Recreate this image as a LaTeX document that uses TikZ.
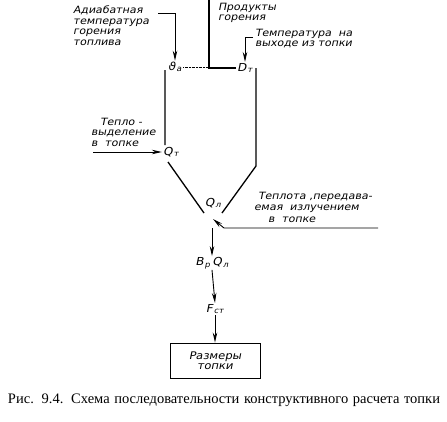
\documentclass[tikz,border=0pt]{standalone}
\usepackage{fontspec}
\setmainfont{Liberation Serif}
\newfontfamily\gostfont{DejaVu Sans}[FakeStretch=1.1,FakeSlant=0.2]
\usetikzlibrary{arrows.meta}

\begin{document}
\begin{tikzpicture}[x=1pt,y=1pt,>={Stealth[length=10pt,width=4.5pt]},lbl/.style={align=left,inner sep=0pt,font=\gostfont\fontsize{10}{10.5}\selectfont},sym/.style={inner sep=1pt,font=\gostfont\fontsize{11}{12}\selectfont},wall/.style={line width=1.3pt},arr/.style={line width=0.9pt,->},blok/.style={draw,line width=0.9pt,minimum width=90pt,minimum height=35pt,align=center,font=\gostfont\fontsize{10.5}{10.5}\selectfont}]
\useasboundingbox (0,0) rectangle (447,-421);
\node[lbl,anchor=north west] (adiab) at (73,-6) {Адиабатная\\температура\\горения\\топлива};
\node[lbl,anchor=north west] (prod) at (218,-3) {Продукты\\горения};
\node[lbl,anchor=north west] (tvyh) at (255,-29) {Температура\ \ на\\выходе\ из\ топки};
\node[lbl,anchor=north west] (tvyd) at (91,-118) {\hspace*{9pt}Тепло -\\выделение\\в\ \ топке};
\node[lbl,anchor=north west,font=\gostfont\fontsize{10}{11.5}\selectfont] (tizl) at (254,-192) {\hspace*{4pt}Теплота ,передава-\\емая\ \ излучением\\\hspace*{14pt}в\ \ топке};
\node[sym] (ta) at (175,-67) {ϑ\textsubscript{\kern1pt a}};
\node[sym] (dt) at (245,-68) {D\textsubscript{\kern1pt т}};
\node[sym] (qt) at (171,-152) {Q\textsubscript{\kern1pt т}};
\node[sym] (ql) at (213,-203) {Q\textsubscript{\kern1pt л}};
\node[sym] (bq) at (212,-263) {B\textsubscript{\kern1pt р}\,Q\textsubscript{\kern1pt л}};
\node[sym] (fst) at (215,-309) {F\textsubscript{\kern1pt ст}};
\node[blok] (razm) at (215,-360.5) {Размеры\\топки};
\node[font=\fontsize{14.5}{17}\selectfont,inner sep=0pt] (cap) at (224,-400) {\makebox[432pt][s]{Рис. 9.4. Схема последовательности конструктивного расчета топки}};
% points of the furnace outline and free ends
\coordinate (a1) at (158,-13);
\coordinate (pg) at (209,0);
\coordinate (t1) at (253,-37);
\coordinate (lt) at (165,-70);
\coordinate (lm) at (165,-145);
\coordinate (ld) at (168,-162);
\coordinate (lb) at (204,-213);
\coordinate (rt) at (256,-68);
\coordinate (rm) at (256,-166);
\coordinate (rb) at (222,-213);
\coordinate (bot) at (213,-219);
\coordinate (z1) at (93,-152);
\coordinate (r1) at (378,-228);
\coordinate (r2) at (224,-228);
\coordinate (c0) at (212,-228);
\draw[arr] (a1) -| (ta.north);
\draw[wall] (pg) |- (dt.west);
\draw[densely dotted] (ta.east) -- (pg |- ta.east);
\draw[arr] (t1) -| (dt.north);
\draw[wall] (lt) -- (lm) (ld) -- (lb);
\draw[wall] (rt) -- (rm) -- (rb);
\draw[arr] (z1) -- (qt.west);
\draw[arr] (r1) -- (r2) -- (bot);
\foreach \x/\y in {c0/bq.north,bq.south/fst.north,fst.south/razm.north}{\draw[arr] (\x)--(\y);}
\end{tikzpicture}
\end{document}
